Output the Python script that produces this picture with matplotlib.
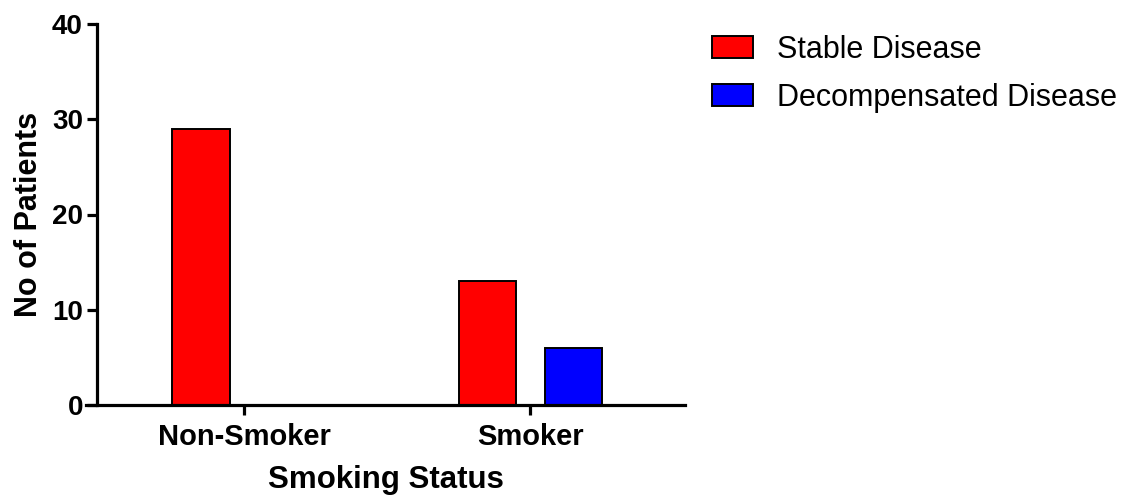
import matplotlib
matplotlib.use("Agg")
import matplotlib.pyplot as plt
import numpy as np

categories = ["Non-Smoker", "Smoker"]
series_names = ["Stable Disease", "Decompensated Disease"]
stable = [29, 13]
decompensated = [0, 6]
colors = ["#ff0000", "#0000ff"]
yticks = [0, 10, 20, 30, 40]

plt.rcParams["font.family"] = ["Liberation Sans", "DejaVu Sans"]

fig = plt.figure(figsize=(11.41, 4.96), dpi=100)
ax = fig.add_axes([86 / 1141, 1 - 405 / 496, (685 - 86) / 1141, (405 - 24) / 496])

x = np.arange(len(categories))
width = 0.2
offset = 0.15
ax.bar(x - offset, stable, width, color=colors[0], edgecolor="black",
       linewidth=1.4, label=series_names[0], zorder=2)
ax.bar(x + offset, decompensated, width, color=colors[1], edgecolor="black",
       linewidth=1.4, label=series_names[1], zorder=2)

ax.set_xlim(-0.552, 1.54)
ax.set_ylim(0, 40)
ax.set_xticks(x)
ax.set_xticklabels(categories)
ax.set_yticks(yticks)

for side in ("top", "right"):
    ax.spines[side].set_visible(False)
for side in ("left", "bottom"):
    ax.spines[side].set_linewidth(2.3)
ax.spines["left"].set_position(("data", -0.514))
ax.spines["bottom"].set_zorder(3)

ax.tick_params(axis="y", direction="out", length=7, width=2.3,
               labelsize=20, pad=3)
ax.tick_params(axis="x", direction="out", length=7, width=2.3,
               labelsize=21, pad=6)
for lbl in ax.get_xticklabels() + ax.get_yticklabels():
    lbl.set_fontweight("bold")

ax.set_xlabel("Smoking Status", fontsize=22.5, fontweight="bold", labelpad=10)
ax.set_ylabel("No of Patients", fontsize=22, fontweight="bold", labelpad=6)

fig.legend(loc="upper left", bbox_to_anchor=(712 / 1141, 1 - 35 / 496),
           frameon=False, fontsize=22, handlelength=1.34, handleheight=0.72,
           handletextpad=0.78, labelspacing=0.58, borderpad=0, borderaxespad=0)

fig.savefig("out.png", dpi=100, facecolor="white")
